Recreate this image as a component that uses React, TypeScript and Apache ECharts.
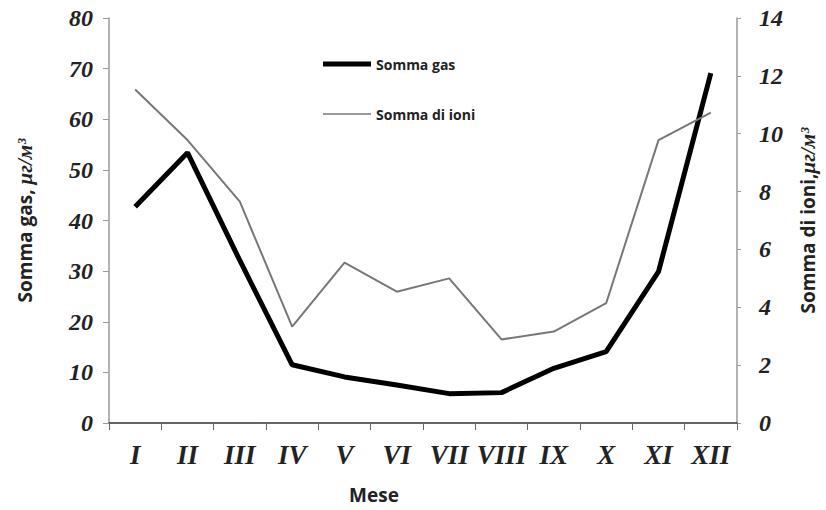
import React, { useEffect, useRef } from "react";
import * as echarts from "echarts";

const months = ["I", "II", "III", "IV", "V", "VI", "VII", "VIII", "IX", "X", "XI", "XII"];
const gasSum = [42.7, 53.4, 32.1, 11.5, 9.1, 7.5, 5.8, 6.0, 10.8, 14.1, 29.9, 69.1];
const ionSum = [11.53, 9.78, 7.65, 3.33, 5.54, 4.54, 5.0, 2.89, 3.16, 4.14, 9.78, 10.73];

const serifLabel = {
  fontFamily: "Liberation Serif, serif",
  fontStyle: "italic" as const,
  fontWeight: "bold" as const,
  color: "#222",
};

export default function App() {
  const ref = useRef<HTMLDivElement>(null);
  useEffect(() => {
    document.body.style.margin = "0";
    const chart = echarts.init(ref.current!, null, { renderer: "svg" });
    const titleRich = {
      u: {
        fontFamily: "Liberation Serif, serif",
        fontStyle: "italic",
        fontSize: 21,
        color: "#222",
      },
    };
    chart.setOption({
      animation: false,
      backgroundColor: "#fff",
      grid: { left: 109, right: 87, top: 18, bottom: 87 },
      legend: {
        orient: "vertical",
        left: 318,
        top: 52,
        itemWidth: 48,
        itemHeight: 14,
        itemGap: 36,
        textStyle: {
          fontFamily: "Open Sans, sans-serif",
          fontWeight: "bold",
          fontSize: 14,
          color: "#222",
        },
        data: [
          { name: "Somma gas", icon: "path://M0,0H48V5H0Z" },
          { name: "Somma di ioni", icon: "path://M0,0H48V1.6H0Z" },
        ],
      },
      xAxis: {
        type: "category",
        data: months,
        boundaryGap: true,
        name: "Mese",
        nameLocation: "middle",
        nameGap: 62,
        nameTextStyle: {
          fontFamily: "Open Sans, sans-serif",
          fontWeight: "bold",
          fontSize: 19,
          color: "#222",
          padding: [0, 98, 0, 0],
        },
        axisLine: { lineStyle: { color: "#333", width: 1.5 } },
        axisTick: { show: true, length: 7, lineStyle: { color: "#666" } },
        axisLabel: { ...serifLabel, fontSize: 27, margin: 18, interval: 0 },
      },
      yAxis: [
        {
          type: "value",
          min: 0,
          max: 80,
          interval: 10,
          name: "Somma gas, {u|μг/м³}",
          nameLocation: "middle",
          nameGap: 74,
          nameTextStyle: {
            fontFamily: "Open Sans, sans-serif",
            fontWeight: "bold",
            fontSize: 19,
            color: "#222",
            rich: titleRich,
          },
          splitLine: { show: false },
          axisLine: { show: true, lineStyle: { color: "#999", width: 1.5 } },
          axisTick: { show: true, length: 6, lineStyle: { color: "#999" } },
          axisLabel: { ...serifLabel, fontSize: 24, margin: 16 },
        },
        {
          type: "value",
          min: 0,
          max: 14,
          interval: 2,
          position: "right",
          name: "Somma di ioni,{u|μг/м³}",
          nameLocation: "middle",
          nameGap: 60,
          nameTextStyle: {
            fontFamily: "Open Sans, sans-serif",
            fontWeight: "bold",
            fontSize: 19,
            color: "#222",
            rich: titleRich,
          },
          splitLine: { show: false },
          axisLine: { show: true, lineStyle: { color: "#999", width: 1.5 } },
          axisTick: { show: true, length: 4, lineStyle: { color: "#999" } },
          axisLabel: { ...serifLabel, fontSize: 24, margin: 22 },
        },
      ],
      series: [
        {
          name: "Somma gas",
          type: "line",
          yAxisIndex: 0,
          data: gasSum,
          symbol: "none",
          lineStyle: { color: "#000", width: 5 },
          itemStyle: { color: "#000" },
        },
        {
          name: "Somma di ioni",
          type: "line",
          yAxisIndex: 1,
          data: ionSum,
          symbol: "none",
          lineStyle: { color: "#777", width: 2 },
          itemStyle: { color: "#777" },
        },
      ],
    });
    return () => chart.dispose();
  }, []);
  return <div ref={ref} style={{ width: 826, height: 510 }} />;
}
